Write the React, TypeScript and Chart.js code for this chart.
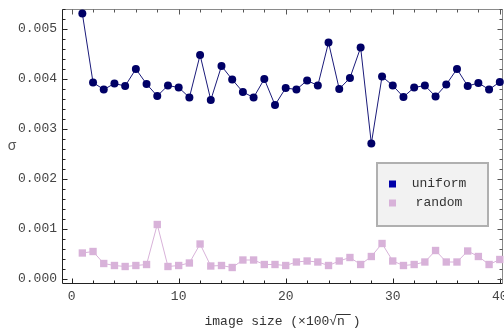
import React, { useEffect, useRef } from "react";
import { Chart, registerables } from "chart.js";

Chart.register(...registerables);

const imageSizes = [1, 2, 3, 4, 5, 6, 7, 8, 9, 10, 11, 12, 13, 14, 15, 16, 17, 18, 19, 20,
  21, 22, 23, 24, 25, 26, 27, 28, 29, 30, 31, 32, 33, 34, 35, 36, 37, 38, 39, 40];

const uniformSigma = [
  0.00531, 0.00393, 0.00379, 0.00391, 0.00386, 0.0042, 0.0039, 0.00366, 0.00387, 0.00383,
  0.00363, 0.00448, 0.00358, 0.00426, 0.00399, 0.00374, 0.00363, 0.004, 0.00348, 0.00382,
  0.00379, 0.00397, 0.00387, 0.00473, 0.0038, 0.00402, 0.00463, 0.00271, 0.00405, 0.00387,
  0.00364, 0.00383, 0.00387, 0.00365, 0.00389, 0.0042, 0.00386, 0.00392, 0.00379, 0.00394,
];

const randomSigma = [
  0.00052, 0.00055, 0.00031, 0.00027, 0.00025, 0.00027, 0.00029, 0.00109, 0.00025, 0.00027,
  0.00032, 0.0007, 0.00026, 0.00027, 0.00023, 0.00038, 0.00038, 0.00029, 0.00029, 0.00027,
  0.00034, 0.00036, 0.00034, 0.00027, 0.00036, 0.00043, 0.00029, 0.00045, 0.00071, 0.00036,
  0.00027, 0.00029, 0.00034, 0.00057, 0.00034, 0.00034, 0.00056, 0.00045, 0.00029, 0.00039,
];

const seriesLabels = ["uniform", "random"];
const xMajorTicks = [0, 10, 20, 30, 40];
const xMinorTicks = [2, 4, 6, 8, 12, 14, 16, 18, 22, 24, 26, 28, 32, 34, 36, 38];
const yMajorTicks = [0, 0.001, 0.002, 0.003, 0.004, 0.005];
const yMinorTicks = [0.0002, 0.0004, 0.0006, 0.0008, 0.0012, 0.0014, 0.0016, 0.0018,
  0.0022, 0.0024, 0.0026, 0.0028, 0.0032, 0.0034, 0.0036, 0.0038,
  0.0042, 0.0044, 0.0046, 0.0048, 0.0052, 0.0054];

const FONT = "'Liberation Mono', 'DejaVu Sans Mono', monospace";
const UNIFORM_COLOR = "#000066";
const UNIFORM_LEGEND = "#0000a8";
const RANDOM_COLOR = "#d8b2d9";
const X_TITLE = "image size (×100√n )";

const framePlugin = {
  id: "frame",
  beforeDatasetsDraw(chart: any) {
    const { ctx, chartArea: a, scales } = chart;
    const x = scales.x;
    const y = scales.y;
    const L = Math.round(a.left) + 0.5;
    const R = Math.round(a.right) - 0.5;
    const T = Math.round(a.top) + 0.5;
    const B = Math.round(a.bottom) - 0.5;
    ctx.save();
    ctx.lineWidth = 1;
    ctx.strokeStyle = "#8a8a8a";
    ctx.beginPath();
    ctx.moveTo(L, T);
    ctx.lineTo(R, T);
    ctx.lineTo(R, B);
    ctx.stroke();
    ctx.strokeStyle = "#222";
    ctx.beginPath();
    ctx.moveTo(L, T);
    ctx.lineTo(L, B);
    ctx.lineTo(R, B);
    ctx.stroke();
    const xt = (v: number, len: number) => {
      const px = Math.round(x.getPixelForValue(v)) + 0.5;
      ctx.strokeStyle = "#222";
      ctx.beginPath();
      ctx.moveTo(px, B);
      ctx.lineTo(px, B - len);
      ctx.stroke();
      ctx.strokeStyle = "#555";
      ctx.beginPath();
      ctx.moveTo(px, T);
      ctx.lineTo(px, T + len);
      ctx.stroke();
    };
    xMajorTicks.forEach((v) => xt(v, 5));
    xMinorTicks.forEach((v) => xt(v, 3));
    const yt = (v: number, len: number) => {
      const py = Math.round(y.getPixelForValue(v)) + 0.5;
      ctx.strokeStyle = "#222";
      ctx.beginPath();
      ctx.moveTo(L, py);
      ctx.lineTo(L + len, py);
      ctx.stroke();
      ctx.strokeStyle = "#555";
      ctx.beginPath();
      ctx.moveTo(R, py);
      ctx.lineTo(R - len, py);
      ctx.stroke();
    };
    yMajorTicks.forEach((v) => yt(v, 5));
    yMinorTicks.forEach((v) => yt(v, 3));
    ctx.restore();
  },
  afterDraw(chart: any) {
    const { ctx, chartArea: a } = chart;
    ctx.save();
    ctx.fillStyle = "#555";
    ctx.font = `14px ${FONT}`;
    ctx.textAlign = "center";
    ctx.textBaseline = "middle";
    ctx.fillText("σ", 12, (a.top + a.bottom) / 2);

    ctx.font = `13px ${FONT}`;
    const full = ctx.measureText(X_TITLE).width;
    const cx = (a.left + a.right) / 2;
    const start = cx - full / 2;
    const pre = ctx.measureText("image size (×100√").width;
    const nw = ctx.measureText("n ").width;
    ctx.strokeStyle = "#333";
    ctx.lineWidth = 1;
    ctx.beginPath();
    ctx.moveTo(start + pre - 1, 314.5);
    ctx.lineTo(start + pre + nw - 2, 314.5);
    ctx.stroke();

    const bx = a.right - 127;
    const by = a.top + 153;
    const bw = 113;
    const bh = 65;
    ctx.fillStyle = "#f2f2f2";
    ctx.fillRect(bx, by, bw, bh);
    ctx.strokeStyle = "#b0b0b0";
    ctx.lineWidth = 2;
    ctx.strokeRect(bx + 1, by + 1, bw - 2, bh - 2);
    const colors = [UNIFORM_LEGEND, RANDOM_COLOR];
    const rows = [by + 22, by + 41];
    seriesLabels.forEach((lab, i) => {
      ctx.fillStyle = colors[i];
      ctx.fillRect(bx + 13, rows[i] - 3.5, 7, 7);
      ctx.fillStyle = "#333";
      ctx.font = `13px ${FONT}`;
      ctx.textAlign = "center";
      ctx.textBaseline = "middle";
      ctx.fillText(lab, bx + 63, rows[i]);
    });
    ctx.restore();
  },
};

export default function App() {
  const ref = useRef<HTMLCanvasElement | null>(null);
  useEffect(() => {
    document.body.style.margin = "0";
    const canvas = ref.current;
    if (!canvas) return;
    const chart = new Chart(canvas, {
      type: "line",
      data: {
        datasets: [
          {
            label: seriesLabels[0],
            data: imageSizes.map((s, i) => ({ x: s, y: uniformSigma[i] })),
            borderColor: "#1a1a7a",
            borderWidth: 1,
            pointStyle: "circle",
            pointRadius: 4,
            pointBackgroundColor: UNIFORM_COLOR,
            pointBorderColor: UNIFORM_COLOR,
            pointBorderWidth: 0,
            tension: 0,
            clip: false,
          },
          {
            label: seriesLabels[1],
            data: imageSizes.map((s, i) => ({ x: s, y: randomSigma[i] })),
            borderColor: RANDOM_COLOR,
            borderWidth: 1,
            pointStyle: "rect",
            pointRadius: 5.2,
            pointBackgroundColor: RANDOM_COLOR,
            pointBorderColor: RANDOM_COLOR,
            pointBorderWidth: 0,
            tension: 0,
            clip: false,
          },
        ],
      },
      options: {
        responsive: false,
        animation: false,
        devicePixelRatio: 1,
        layout: { autoPadding: false, padding: { top: 9, right: 1, left: 0, bottom: 0 } },
        plugins: { legend: { display: false }, tooltip: { enabled: false } },
        scales: {
          x: {
            type: "linear",
            min: -0.9,
            max: 40.3,
            grid: { display: false, drawTicks: false },
            border: { display: false },
            afterBuildTicks: (s: any) => {
              s.ticks = xMajorTicks.map((v) => ({ value: v }));
            },
            afterFit: (s: any) => {
              s.height = 45;
              s.paddingLeft = 0;
              s.paddingRight = 0;
            },
            ticks: {
              font: { family: FONT, size: 13 },
              color: "#444",
              padding: 5,
              maxRotation: 0,
              autoSkip: false,
              callback: (v: any) => String(v),
            },
            title: {
              display: true,
              text: X_TITLE,
              font: { family: FONT, size: 13 },
              color: "#333",
              padding: { top: 0, bottom: 0 },
            },
          },
          y: {
            type: "linear",
            min: -0.0001,
            max: 0.0054,
            grid: { display: false, drawTicks: false },
            border: { display: false },
            afterBuildTicks: (s: any) => {
              s.ticks = yMajorTicks.map((v) => ({ value: v }));
            },
            afterFit: (s: any) => {
              s.width = 62;
              s.paddingTop = 0;
              s.paddingBottom = 0;
            },
            ticks: {
              font: { family: FONT, size: 13 },
              color: "#444",
              padding: 5,
              autoSkip: false,
              callback: (v: any) => Number(v).toFixed(3),
            },
          },
        },
      },
      plugins: [framePlugin],
    } as any);
    return () => chart.destroy();
  }, []);
  return (
    <div style={{ width: 504, height: 329 }}>
      <canvas ref={ref} width={504} height={329} style={{ display: "block" }} />
    </div>
  );
}
